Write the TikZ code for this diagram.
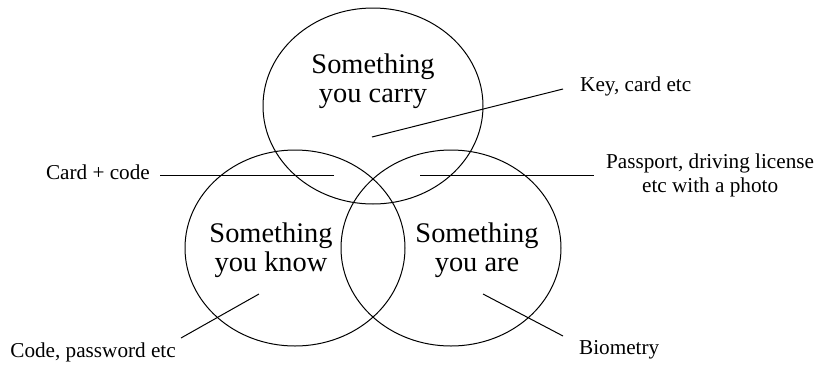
\documentclass[tikz,border=0pt]{standalone}
\usepackage{fontspec}
\setmainfont{Liberation Serif}
\usetikzlibrary{positioning, shapes.geometric}

\begin{document}
\begin{tikzpicture}[
    x=1pt, y=-1pt,
    ring/.style={
      ellipse, draw, line width=1pt,
      minimum width=220pt, minimum height=196pt, inner sep=0pt
    },
    big/.style={font=\fontsize{28.4}{29}\selectfont, align=center, inner sep=0pt},
    lbl/.style={font=\fontsize{21.2}{24}\selectfont, align=center, inner sep=0pt},
    leader/.style={line width=1pt},
  ]
    \useasboundingbox (0,0) rectangle (815,365);

    % Three factors
    \node[ring] (carry) at (373,106) {};
    \node[ring] (know) at (295,248) {};
    \node[ring] (are) at (451,248) {};

    \node[big] (carrytxt) at (373,81) {Something\\you carry};
    \node[big] (knowtxt) at (271,250.6) {Something\\you know};
    \node[big] (aretxt) at (477,250.6) {Something\\you are};

    % Leader ends
    \coordinate (keyin) at (372,137);
    \coordinate (keyend) at (563,89);
    \coordinate (cardin) at (334,175);
    \coordinate (cardend) at (160,175);
    \coordinate (passin) at (420,175);
    \coordinate (passend) at (594,175);
    \coordinate (codein) at (259,294);
    \coordinate (codeend) at (181,338);
    \coordinate (bioin) at (483,294);
    \coordinate (bioend) at (563,336);

    % Labels
    \node[lbl, right=17pt of keyend, yshift=3pt] (keytxt) {Key, card etc};
    \node[lbl, left=10pt of cardend, yshift=3.25pt] (cardtxt) {Card + code};
    \node[lbl, right=12pt of passend] (passtxt) {Passport, driving license\\etc with a photo};
    \node[lbl, below left=5pt and 5pt of codeend] (codetxt) {Code, password etc};
    \node[lbl, below right=4pt and 16pt of bioend] (biotxt) {Biometry};

    % Leaders
    \draw[leader] (keyin) -- (keyend);
    \draw[leader] (cardin) -- (cardend);
    \draw[leader] (passin) -- (passend);
    \draw[leader] (codein) -- (codeend);
    \draw[leader] (bioin) -- (bioend);
  \end{tikzpicture}
\end{document}
